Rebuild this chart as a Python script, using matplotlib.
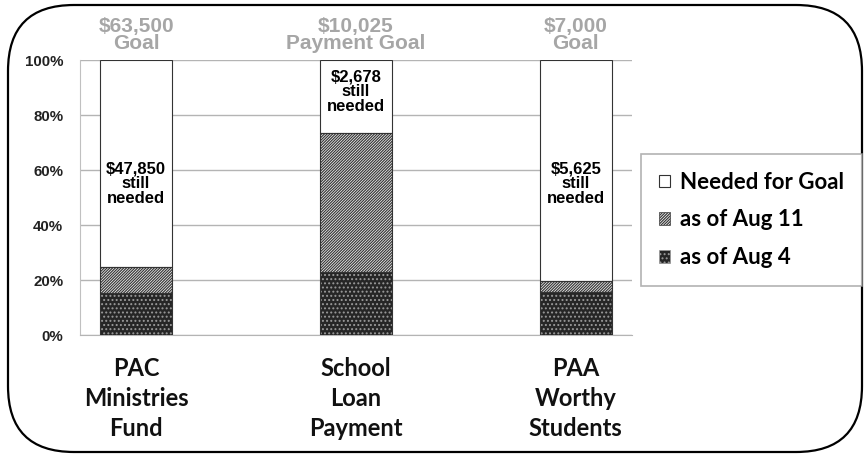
import matplotlib.pyplot as plt
from matplotlib.patches import Patch, FancyBboxPatch

categories = ["PAC\nMinistries\nFund", "School\nLoan\nPayment", "PAA\nWorthy\nStudents"]
goal_labels = ["$63,500\nGoal", "$10,025\nPayment Goal", "$7,000\nGoal"]
needed_labels = ["$47,850\nstill\nneeded", "$2,678\nstill\nneeded", "$5,625\nstill\nneeded"]
aug4 = [15.2, 22.8, 15.7]
aug11 = [9.4, 50.5, 3.9]
needed = [75.4, 26.7, 80.4]

plt.rcParams['hatch.linewidth'] = 0.9

fig = plt.figure(figsize=(8.65, 4.55), dpi=100)
ax = fig.add_axes([0.0925, 0.2637, 0.638, 0.6044])

x = list(range(len(categories)))
w = 0.327
bottom2 = [a + b for a, b in zip(aug4, aug11)]

# fills (hatch colour comes from edgecolor, so outline drawn separately)
ax.bar(x, aug4, w, color='#262626', edgecolor='#9a9a9a', hatch='....', linewidth=0, zorder=3)
ax.bar(x, aug11, w, bottom=aug4, color='white', edgecolor='#3a3a3a', hatch='////////////', linewidth=0, zorder=3)
ax.bar(x, needed, w, bottom=bottom2, color='white', linewidth=0, zorder=3)
for vals, bot in [(aug4, None), (aug11, aug4), (needed, bottom2)]:
    ax.bar(x, vals, w, bottom=bot, fill=False, edgecolor='#333333', linewidth=0.8, zorder=4)

label_y = [55, 88.5, 55]
for i in x:
    ax.text(i, label_y[i], needed_labels[i], ha='center', va='center', fontsize=12,
            fontweight='bold', family='Liberation Sans', linespacing=1.0, zorder=5)
    ax.text(i, 102.5, goal_labels[i], ha='center', va='bottom', fontsize=15,
            fontweight='bold', family='Liberation Sans', color='#a6a6a6', linespacing=0.9)

ax.set_xlim(-0.255, 2.255)
ax.set_ylim(0, 100)
ax.set_yticks([0, 20, 40, 60, 80, 100])
ax.set_yticklabels([f"{v}%" for v in [0, 20, 40, 60, 80, 100]], fontsize=10.8,
                   fontweight='bold', family='Liberation Sans', color='#222222')
ax.set_xticks(x)
ax.set_xticklabels(categories, fontsize=17, fontweight='bold', family='Lato',
                   color='#111111', linespacing=1.35)
ax.tick_params(axis='y', length=0, pad=12)
ax.tick_params(axis='x', length=0, pad=16)
ax.yaxis.grid(True, color='#b4b4b4', linewidth=1)
ax.set_axisbelow(True)
for s in ['top', 'right']:
    ax.spines[s].set_visible(False)
ax.spines['left'].set_color('#c0c0c0')
ax.spines['bottom'].set_color('#b4b4b4')

handles = [
    Patch(facecolor='white', edgecolor='#333333', linewidth=0.8),
    Patch(facecolor='white', edgecolor='#3a3a3a', hatch='////////////', linewidth=0.5),
    Patch(facecolor='#262626', edgecolor='#9a9a9a', hatch='....', linewidth=0.5),
]
leg = fig.legend(handles, ["Needed for Goal", "as of Aug 11", "as of Aug 4"],
                 loc='upper left', bbox_to_anchor=(641 / 865, 1 - 154 / 455),
                 borderaxespad=0, frameon=True, fancybox=False, edgecolor='#a0a0a0',
                 fontsize=16, handlelength=0.5, handleheight=0.5, handletextpad=0.45,
                 labelspacing=0.75, borderpad=0.8)
leg.get_frame().set_linewidth(1.2)
for t in leg.get_texts():
    t.set_family('Lato')
    t.set_fontweight('bold')

# rounded border around the whole picture
bg = fig.add_axes([0, 0, 1, 1], zorder=-1)
bg.set_xlim(0, 865)
bg.set_ylim(455, 0)
bg.axis('off')
bg.add_patch(FancyBboxPatch((8, 5), 854, 447, boxstyle="round,pad=0,rounding_size=66",
                            fill=False, edgecolor='black', linewidth=1.6))

fig.savefig('out.png', dpi=100)
